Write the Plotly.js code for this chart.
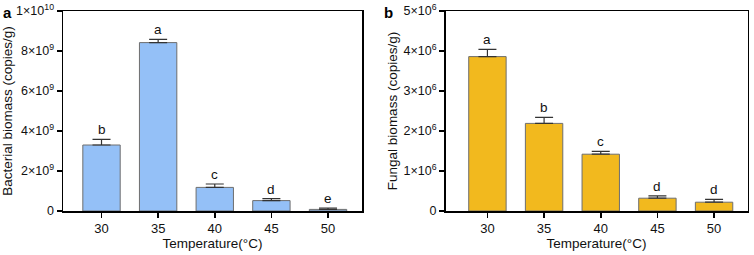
<!DOCTYPE html>
<html>
<head>
<meta charset="utf-8">
<script src="https://cdn.plot.ly/plotly-3.0.1.min.js"></script>
<style>html,body{margin:0;padding:0;background:#fff;}#chart{width:754px;height:255px;}</style>
</head>
<body>
<div id="chart"></div>
<script>
var temperatures = ["30", "35", "40", "45", "50"];
var bacterialMean = [3.30e9, 8.42e9, 1.18e9, 0.52e9, 0.08e9];
var bacterialErr = [0.28e9, 0.16e9, 0.17e9, 0.10e9, 0.07e9];
var bacterialLetters = ["b", "a", "c", "d", "e"];
var fungalMean = [3.86e6, 2.19e6, 1.42e6, 0.32e6, 0.22e6];
var fungalErr = [0.18e6, 0.15e6, 0.07e6, 0.06e6, 0.07e6];
var fungalLetters = ["a", "b", "c", "d", "d"];
var bacTickVals = [0, 2e9, 4e9, 6e9, 8e9, 1e10];
var bacTickText = ["0", "2×10<sup>9</sup>", "4×10<sup>9</sup>", "6×10<sup>9</sup>", "8×10<sup>9</sup>", "1×10<sup>10</sup>"];
var funTickVals = [0, 1e6, 2e6, 3e6, 4e6, 5e6];
var funTickText = ["0", "1×10<sup>6</sup>", "2×10<sup>6</sup>", "3×10<sup>6</sup>", "4×10<sup>6</sup>", "5×10<sup>6</sup>"];

var FONT = "Liberation Sans, Arial, sans-serif";

function barTrace(y, err, color, xa, ya) {
  return {
    type: "bar", x: temperatures, y: y, xaxis: xa, yaxis: ya,
    marker: {color: color, line: {color: "#6e6e6e", width: 1}},
    error_y: {type: "data", symmetric: false, array: err, arrayminus: err.map(function(){return 0;}),
              color: "#333333", thickness: 1.2, width: 9},
    hoverinfo: "none", showlegend: false
  };
}

var data = [
  barTrace(bacterialMean, bacterialErr, "#94c0f7", "x", "y"),
  barTrace(fungalMean, fungalErr, "#f2b91e", "x2", "y2")
];

var annotations = [];
temperatures.forEach(function(t, i) {
  annotations.push({x: i, y: bacterialMean[i] + bacterialErr[i], xref: "x", yref: "y", text: bacterialLetters[i],
    showarrow: false, yanchor: "bottom", yshift: 0, font: {family: FONT, size: 13.5, color: "#111"}});
  annotations.push({x: i, y: fungalMean[i] + fungalErr[i], xref: "x2", yref: "y2", text: fungalLetters[i],
    showarrow: false, yanchor: "bottom", yshift: 0, font: {family: FONT, size: 13.5, color: "#111"}});
});
annotations.push({xref: "paper", yref: "paper", x: 1/754, y: 1 - 2/255, xanchor: "left", yanchor: "top",
  text: "<b>a</b>", showarrow: false, font: {family: FONT, size: 15, color: "#000"}});
annotations.push({xref: "paper", yref: "paper", x: 382/754, y: 1 - 2/255, xanchor: "left", yanchor: "top",
  text: "<b>b</b>", showarrow: false, font: {family: FONT, size: 15, color: "#000"}});

function xAxis(domain, anchor, range) {
  return {
    domain: domain, anchor: anchor, type: "category", range: range,
    showline: true, mirror: true, linecolor: "#000", linewidth: 1.5,
    ticks: "outside", ticklen: 5, tickwidth: 1.5, tickcolor: "#000",
    showgrid: false, zeroline: false, fixedrange: true,
    tickfont: {family: FONT, size: 13, color: "#111"},
    title: {text: "Temperature(°C)", font: {family: FONT, size: 13.5, color: "#111"}, standoff: 0}
  };
}
function yAxis(domain, anchor, range, vals, text, title) {
  return {
    domain: domain, anchor: anchor, range: range,
    showline: true, mirror: true, linecolor: "#000", linewidth: 1.5,
    ticks: "outside", ticklen: 5, tickwidth: 1.5, tickcolor: "#000",
    showgrid: false, zeroline: false, fixedrange: true,
    tickmode: "array", tickvals: vals, ticktext: text,
    tickfont: {family: FONT, size: 12.5, color: "#111"},
    title: {text: title, font: {family: FONT, size: 13.5, color: "#111"}, standoff: 2}
  };
}

var yDom = [1 - 211/255, 1 - 11/255];
var layout = {
  width: 754, height: 255,
  margin: {l: 0, r: 0, t: 0, b: 0},
  paper_bgcolor: "#fff", plot_bgcolor: "#fff",
  bargap: 0.34,
  xaxis: xAxis([63/754, 362/754], "y", [-0.68, 4.6]),
  yaxis: yAxis(yDom, "x", [0, 1e10], bacTickVals, bacTickText, "Bacterial biomass (copies/g)"),
  xaxis2: xAxis([445.5/754, 747.5/754], "y2", [-0.74, 4.59]),
  yaxis2: yAxis(yDom, "x2", [0, 5e6], funTickVals, funTickText, "Fungal biomass (copies/g)"),
  annotations: annotations
};

Plotly.newPlot("chart", data, layout, {displayModeBar: false, staticPlot: true});
</script>
</body>
</html>
